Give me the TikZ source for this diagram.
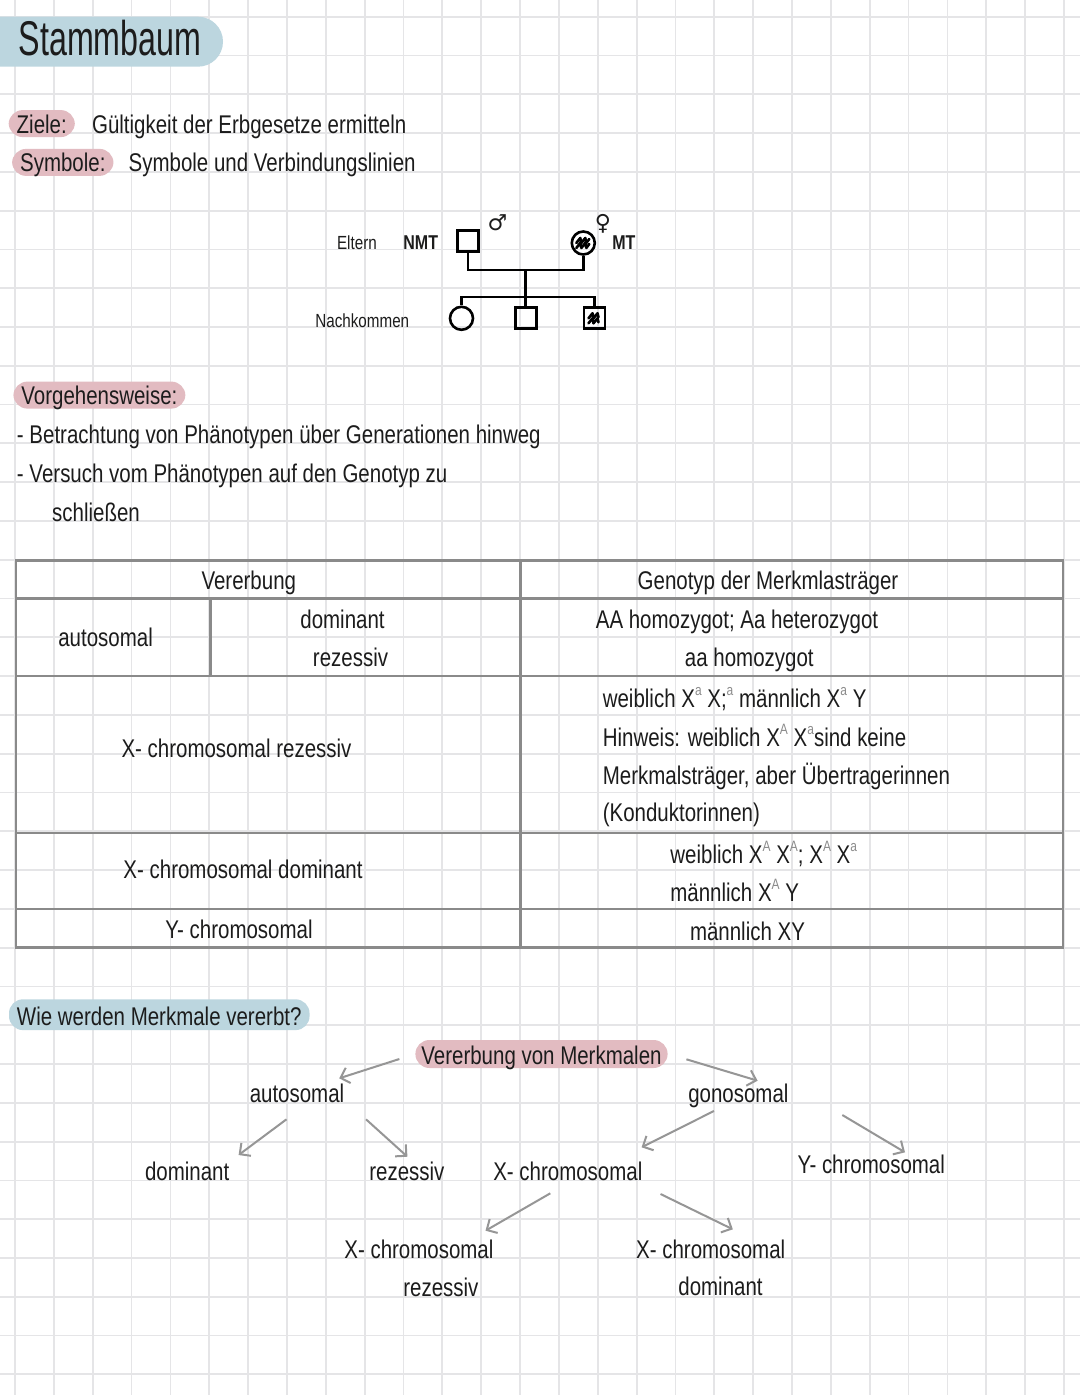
\documentclass[tikz,border=0pt]{standalone}
\usepackage{fontspec}
\setmainfont{Liberation Sans}[FakeStretch=0.8]
\newfontfamily\titlefont{Liberation Sans}[FakeStretch=0.66]
\newfontfamily\symfont{DejaVu Sans}
\usetikzlibrary{arrows.meta}
\definecolor{gridc}{RGB}{229,229,231}
\definecolor{hlblue}{RGB}{188,214,223}
\definecolor{hlpink}{RGB}{226,187,193}
\definecolor{tline}{RGB}{138,138,138}
\definecolor{arrc}{RGB}{150,150,150}
\definecolor{ink}{RGB}{28,28,28}
\definecolor{supc}{RGB}{140,140,140}
\newcommand\gsup[1]{\raisebox{6pt}{\fontsize{7.5}{7.5}\selectfont\color{supc}#1}}
\newcommand\bodyfont{\fontsize{12.8}{15}\selectfont}
\newcommand\pedfont{\fontsize{9.5}{11}\selectfont}
\newcommand\pedbold{\fontsize{10}{11}\selectfont\bfseries}
\begin{document}
\begin{tikzpicture}[x=0.5pt,y=-0.5pt,
  gridline/.style={draw=gridc, line width=0.9pt},
  txt/.style={inner sep=0pt, text=ink, font=\bodyfont},
  hl/.style={txt, rounded corners=7pt, inner xsep=4pt, inner ysep=0pt, text height=11.5pt, text depth=2pt},
  ped/.style={draw=black, line width=1.3pt},
  sqn/.style={draw=black, line width=1.3pt, minimum size=10.5pt, inner sep=0pt},
  cin/.style={circle, draw=black, line width=1.3pt, minimum size=11.5pt, inner sep=0pt},
  scrib/.style={draw=black, line width=1.3pt, line join=round, line cap=round},
  tab/.style={draw=tline, line width=1.4pt},
  arr/.style={draw=arrc, line width=1pt, -{Straight Barb[length=4pt,width=8pt]}},
  symb/.style={inner sep=0pt, text=ink, font=\symfont\fontsize{11}{11}\selectfont}]
\useasboundingbox (0,0) rectangle (1080,1395);
\fill[white] (0,0) rectangle (1080,1395);
% grid
\foreach \k in {0,...,27} \draw[gridline] ({15+38.85*\k},0) -- ({15+38.85*\k},1395);
\foreach \k in {0,...,35} \draw[gridline] (0,{16.7+38.79*\k}) -- (1080,{16.7+38.79*\k});

% title
\fill[hlblue, rounded corners=12.5pt] (-40,16.7) rectangle (223,66.7);
\node[txt, font=\titlefont\fontsize{24.4}{28}\selectfont, anchor=base west] (title) at (18.3,55.5) {Stammbaum};

% Ziele / Symbole
\node[hl, fill=hlpink, anchor=base west] (ziele) at (8.3,133.1) {Ziele:};
\node[txt, anchor=base west] (zieletext) at (91.7,133.1) {Gültigkeit der Erbgesetze ermitteln};
\node[hl, fill=hlpink, anchor=base west] (symbole) at (11.7,171.9) {Symbole:};
\node[txt, anchor=base west] (symboletext) at (128.3,171.9) {Symbole und Verbindungslinien};

% pedigree example
\node[txt, font=\pedfont, anchor=base west] (eltern) at (336.7,250) {Eltern};
\node[txt, font=\pedbold, anchor=base west] (nmt) at (403,250) {NMT};
\node[sqn] (vater) at (467.8,240.8) {};
\node[symb] (male) at (497.5,222.5) {♂};
\node[cin] (mutter) at (583.3,243) {};
\node[symb] (female) at (603,224) {♀};
\node[txt, font=\pedbold, anchor=base west] (mt) at (612,250) {MT};
\node[txt, font=\pedfont, anchor=base west] (nachk) at (315,328) {Nachkommen};
\node[cin] (kind1) at (461.5,318.3) {};
\node[sqn] (kind2) at (525.7,318.3) {};
\node[sqn] (kind3) at (594.5,318.3) {};
\coordinate (paar) at (525.7,270);
\coordinate (geschw) at (525.7,297);
\draw[ped] (vater.south) |- (paar) -| (mutter.south);
\draw[ped] (paar) -- (kind2.north);
\draw[ped] (kind1.north) |- (geschw) -| (kind3.north);
\draw[scrib] ([shift={(-7,0)}]mutter.center) -- ++(4,-5) -- ++(1,5) -- ++(4,-5) -- ++(1,5) -- ++(3,-4);
\draw[scrib] ([shift={(-7,5)}]mutter.center) -- ++(4,-5) -- ++(1,5) -- ++(4,-5) -- ++(1,5) -- ++(3,-4);
\draw[scrib] ([shift={(-6,0)}]kind3.center) -- ++(4,-5) -- ++(1,5) -- ++(4,-5) -- ++(1,4);
\draw[scrib] ([shift={(-6,5)}]kind3.center) -- ++(4,-5) -- ++(1,5) -- ++(4,-5) -- ++(1,4);

% Vorgehensweise
\node[hl, fill=hlpink, anchor=base west] (vorg) at (13,404.6) {Vorgehensweise:};
\node[txt, anchor=base west] (punkt1) at (16.6,443.4) {- Betrachtung von Phänotypen über Generationen hinweg};
\node[txt, anchor=base west] (punkt2) at (16.6,482.2) {- Versuch vom Phänotypen auf den Genotyp zu};
\node[txt, anchor=base west] (punkt2b) at (51.8,521) {schließen};

% table
\draw[tab] (16,560.5) rectangle (1063,947.5);
\draw[tab] (16,598.5) -- (1063,598.5);
\draw[tab] (16,676) -- (1063,676);
\draw[tab] (16,833) -- (1063,833);
\draw[tab] (16,909) -- (1063,909);
\draw[tab] (520.5,560.5) -- (520.5,947.5);
\draw[tab] (210.3,598.5) -- (210.3,676);

\node[txt, anchor=base] (tvererbung) at (248.8,589.3) {Vererbung};
\node[txt, anchor=base] (tauto) at (105.6,646.7) {autosomal};
\node[txt, anchor=base] (tdom) at (342.5,628) {dominant};
\node[txt, anchor=base] (trez) at (350.5,666.7) {rezessiv};
\node[txt, anchor=base] (txrez) at (236.5,757) {X- chromosomal rezessiv};
\node[txt, anchor=base] (txdom) at (243,878.3) {X- chromosomal dominant};
\node[txt, anchor=base] (ty) at (239,938.3) {Y- chromosomal};

\node[txt, anchor=base] (tgen) at (768,589.3) {Genotyp der Merkmlasträger};
\node[txt, anchor=base] (tAA) at (737,628.3) {AA homozygot; Aa heterozygot};
\node[txt, anchor=base] (taa) at (749.3,666.7) {aa homozygot};
\node[txt, anchor=base west] (tw1) at (602.4,707.3) {weiblich X\gsup{a} X;\gsup{a} männlich X\gsup{a} Y};
\node[txt, anchor=base west] (tw2) at (602.4,746) {Hinweis: weiblich X\gsup{A} X\gsup{a}sind keine};
\node[txt, anchor=base west] (tw3) at (602.4,784) {Merkmalsträger, aber Übertragerinnen};
\node[txt, anchor=base west] (tw4) at (602.4,821.7) {(Konduktorinnen)};
\node[txt, anchor=base west] (td1) at (670,863.3) {weiblich X\gsup{A} X\gsup{A}; X\gsup{A} X\gsup{a}};
\node[txt, anchor=base west] (td2) at (670,901.7) {männlich X\gsup{A} Y};
\node[txt, anchor=base west] (txy) at (689.6,940) {männlich XY};

% Wie werden Merkmale vererbt?
\node[hl, fill=hlblue, anchor=base west, text height=13pt, text depth=2.4pt] (wie) at (8.6,1025.3) {Wie werden Merkmale vererbt?};
\node[hl, fill=hlpink, anchor=base west, inner xsep=3pt, text height=12pt] (vvm) at (415,1064) {Vererbung von Merkmalen};
\node[txt, anchor=base] (bauto) at (297,1102.8) {autosomal};
\node[txt, anchor=base] (bgono) at (738.4,1102.8) {gonosomal};
\node[txt, anchor=base] (bdom) at (187.2,1180.4) {dominant};
\node[txt, anchor=base] (brez) at (406.9,1180.4) {rezessiv};
\node[txt, anchor=base] (bx) at (567.8,1180.4) {X- chromosomal};
\node[txt, anchor=base] (by) at (871.3,1173.3) {Y- chromosomal};
\node[txt, anchor=base] (bxrez) at (418.9,1258) {X- chromosomal};
\node[txt, anchor=base] (bxrez2) at (440.9,1296.8) {rezessiv};
\node[txt, anchor=base] (bxdom) at (710.7,1258) {X- chromosomal};
\node[txt, anchor=base] (bxdom2) at (720.5,1295) {dominant};

\draw[arr] ([shift={(-15.6,-5)}]vvm.base west) -- ([shift={(42.2,-24.5)}]bauto.base);
\draw[arr] ([shift={(271.4,-4.7)}]vvm.base west) -- ([shift={(19.2,-22.1)}]bgono.base);
\draw[arr] ([shift={(-10.5,16.5)}]bauto.base) -- ([shift={(51.4,-25.4)}]bdom.base);
\draw[arr] ([shift={(69,16.5)}]bauto.base) -- ([shift={(0.5,-23.7)}]brez.base);
\draw[arr] ([shift={(-24.5,8.2)}]bgono.base) -- ([shift={(73.8,-33.1)}]bx.base);
\draw[arr] ([shift={(103.9,12.2)}]bgono.base) -- ([shift={(33.7,-21)}]by.base);
\draw[arr] ([shift={(-17.5,12.9)}]bx.base) -- ([shift={(66.6,-27.3)}]bxrez.base);
\draw[arr] ([shift={(92.7,13.6)}]bx.base) -- ([shift={(22.1,-28.7)}]bxdom.base);
\end{tikzpicture}
\end{document}
